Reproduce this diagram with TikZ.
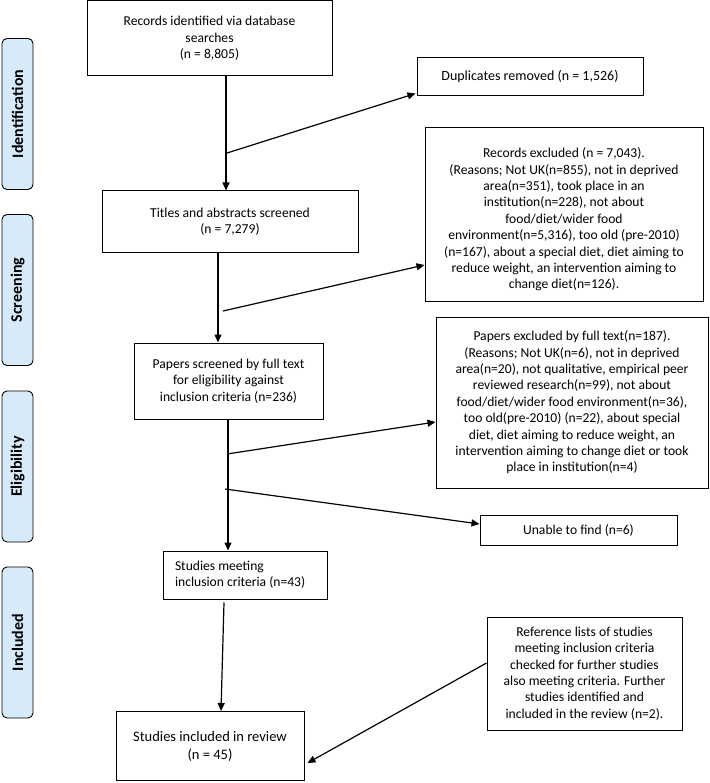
\documentclass[tikz,border=0pt]{standalone}
\usepackage{fontspec}
\setmainfont{Carlito}
\usetikzlibrary{arrows.meta}
\definecolor{stagefill}{RGB}{214,234,250}
\begin{document}
\begin{tikzpicture}[x=1pt,y=-1pt,
  box/.style={draw, line width=1pt, align=center, inner sep=0pt, font=\fontsize{13.6}{16.4}\selectfont},
  stage/.style={draw, rounded corners=5pt, fill=stagefill, line width=0.9pt, rotate=90, inner sep=0pt, minimum height=31pt, minimum width=151pt, font=\fontsize{16}{18}\selectfont\bfseries},
  arr/.style={-{Triangle[length=8pt,width=7pt]}, line width=1.2pt}
]
\useasboundingbox (0,0) rectangle (709,783);

% stage labels
\node[stage] (sid) at (17.5,114) {Identification};
\node[stage] (ssc) at (17.5,290) {Screening};
\node[stage] (sel) at (17.5,466.5) {Eligibility};
\node[stage] (sin) at (17.5,642.5) {Included};

% boxes
\node[box, minimum width=245pt, minimum height=75pt] (recs) at (209.5,38.5) {Records identified via database\\searches\\(n = 8,805)};
\node[box, minimum width=226pt, minimum height=38pt, font=\fontsize{14}{16.4}\selectfont] (dup) at (530,77) {Duplicates removed (n = 1,526)};
\node[box, minimum width=256pt, minimum height=62pt] (titles) at (230,222) {Titles and abstracts screened\\(n = 7,279)};
\node[box, minimum width=278pt, minimum height=173pt] (rexc) at (564,214.5) {\rule{0pt}{20pt}Records excluded (n = 7,043).\\(Reasons; Not UK(n=855), not in deprived\\area(n=351), took place in an\\institution(n=228), not about\\food/diet/wider food\\environment(n=5,316), too old (pre-2010)\\(n=167), about a special diet, diet aiming to\\reduce weight, an intervention aiming to\\change diet(n=126).};
\node[box, minimum width=189pt, minimum height=76pt] (papers) at (228.5,381) {Papers screened by full text\\for eligibility against\\inclusion criteria (n=236)};
\node[box, minimum width=272pt, minimum height=171pt] (pexc) at (572,402.5) {Papers excluded by full text(n=187).\\(Reasons; Not UK(n=6), not in deprived\\area(n=20), not qualitative, empirical peer\\reviewed research(n=99), not about\\food/diet/wider food environment(n=36),\\too old(pre-2010) (n=22), about special\\diet, diet aiming to reduce weight, an\\intervention aiming to change diet or took\\place in institution(n=4)};
\node[box, minimum width=197pt, minimum height=30pt] (unable) at (578.5,530) {Unable to find (n=6)};
\node[box, align=flush left, text width=140pt, inner xsep=12pt, minimum height=48pt] (meet) at (245,575) {Studies meeting\\inclusion criteria (n=43)};
\node[box, minimum width=195pt, minimum height=113pt] (refs) at (584.5,673.5) {Reference lists of studies\\meeting inclusion criteria\\checked for further studies\\also meeting criteria. Further\\studies identified and\\included in the review (n=2).};
\node[box, minimum width=188pt, minimum height=69pt, font=\fontsize{14.5}{18}\selectfont] (incl) at (210,746) {Studies included in review\\(n = 45)};

% branch points
\coordinate (b1) at (227,153);
\coordinate (b2) at (223,311);
\coordinate (b3) at (227,454);
\coordinate (b4) at (225,489);

% connectors
\draw[arr] (recs.south -| 226,0) -- (titles.north -| 226,0);
\draw[arr] (b1) -- ([xshift=-1pt,yshift=3pt]dup.south west);
\draw[arr] (titles.south -| 218,0) -- (papers.north -| 218,0);
\draw[arr] (b2) -- (rexc.west |- 0,265);
\draw[arr] (papers.south -| 228,0) -- (meet.north -| 228,0);
\draw[arr] (b3) -- (pexc.west |- 0,422);
\draw[arr] (b4) -- (unable.west |- 0,524);
\draw[arr] ([xshift=-21pt,yshift=-3pt]meet.south) -- ([xshift=11pt]incl.north);
\draw[arr] (refs.west |- 0,663) -- ([xshift=3pt,yshift=-17pt]incl.east);
\end{tikzpicture}
\end{document}
